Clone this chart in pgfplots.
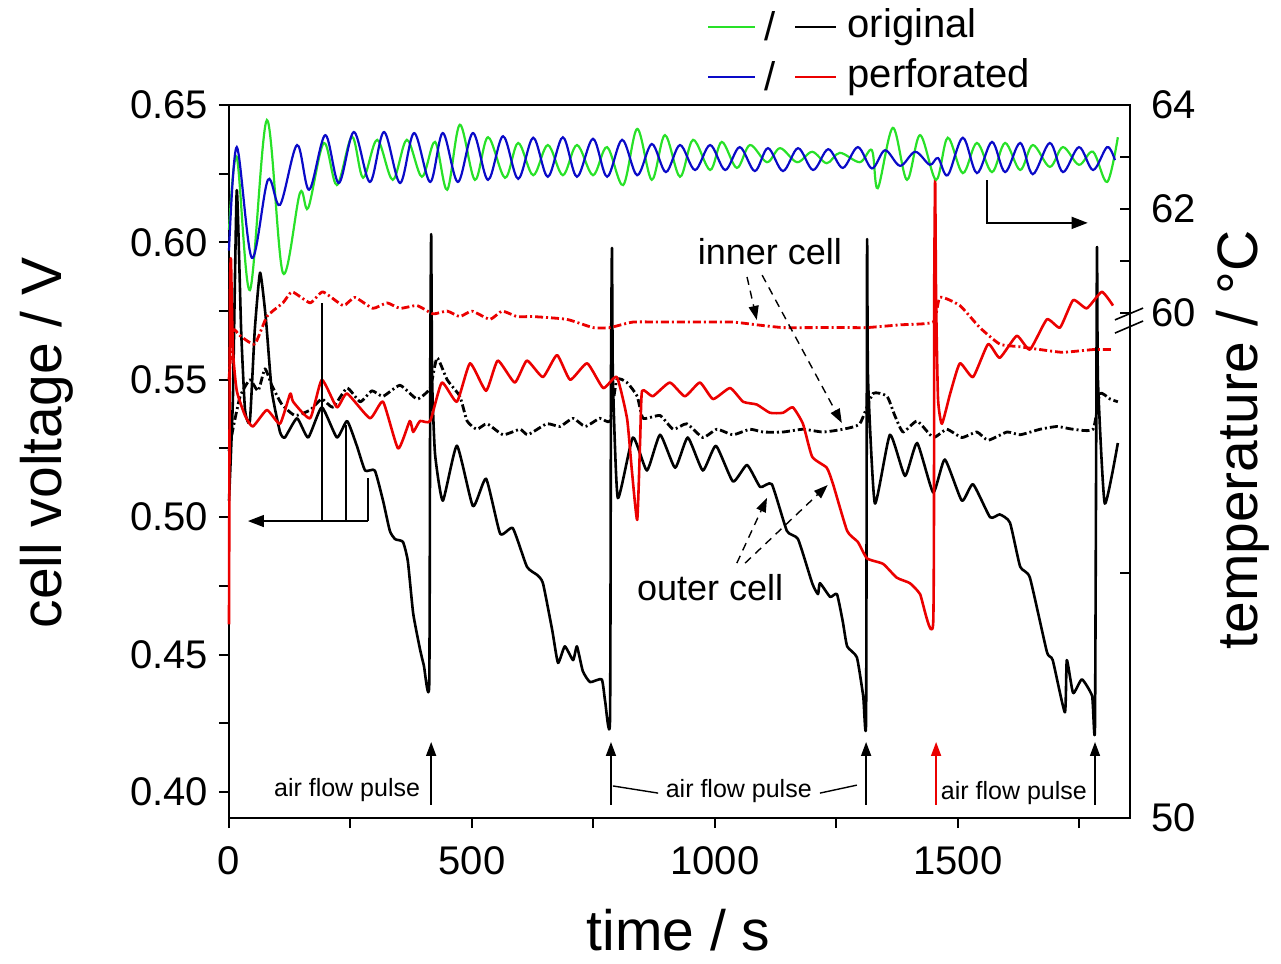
\documentclass[border=0pt]{standalone}
\usepackage{fontspec}
\setmainfont{Liberation Sans}
\usepackage{pgfplots}
\usepackage{pgfplotstable}
\pgfplotsset{compat=1.18}
\usetikzlibrary{arrows.meta}
\definecolor{tgreen}{RGB}{40,225,40}
\definecolor{tblue}{RGB}{10,10,200}
\definecolor{vred}{RGB}{235,0,0}

% temperature, perforated (blue)
\pgfplotstableread{
t T
0 61.2
16 63.19
47 61.06
80 62.56
105 62.08
140 63.23
165 62.37
198 63.42
226 62.50
257 63.48
290 62.52
319 63.48
352 62.50
381 63.46
414 62.52
440 63.46
471 62.52
502 63.46
533 62.56
564 63.40
595 62.58
626 63.37
656 62.62
687 63.38
716 62.62
749 63.35
778 62.62
809 63.33
840 62.65
870 63.25
899 62.71
928 63.23
959 62.75
990 63.23
1021 62.75
1051 63.19
1082 62.73
1109 63.17
1140 62.73
1171 63.17
1202 62.75
1233 63.15
1263 62.79
1294 63.19
1323 62.78
1350 63.13
1381 62.83
1412 63.10
1442 62.85
1459 62.98
1479 62.65
1510 63.37
1539 62.69
1570 63.29
1597 62.71
1628 63.27
1654 62.67
1689 63.27
1716 62.71
1749 63.19
1778 62.75
1807 63.19
1823 62.94
}\tempperf

% temperature, original (green)
\pgfplotstableread{
t T
0 61.6
16 63.0
43 60.44
78 63.71
111 60.77
146 62.31
163 62.02
195 63.27
222 62.46
253 63.39
276 62.60
305 63.33
337 62.56
366 63.33
397 62.62
424 63.29
449 62.37
475 63.62
506 62.56
533 63.38
568 62.60
595 63.27
626 62.65
656 63.23
687 62.65
716 63.23
749 62.65
778 63.19
811 62.46
840 63.54
870 62.56
897 63.42
928 62.62
955 63.33
990 62.75
1014 63.29
1045 62.79
1072 63.23
1107 62.90
1134 63.17
1169 62.90
1200 63.10
1230 62.88
1257 63.08
1298 62.90
1323 63.13
1335 62.40
1366 63.56
1395 62.56
1422 63.42
1455 62.56
1479 63.37
1510 62.69
1539 63.27
1570 62.71
1597 63.27
1628 62.75
1654 63.23
1689 62.81
1716 63.19
1749 62.85
1778 63.10
1807 62.52
1829 63.38
}\temporig

% outer cell, original (black solid)
\pgfplotstableread{
t V
0 0.506
8 0.543
16 0.619
25 0.568
33 0.539
43 0.535
53 0.568
64 0.589
76 0.572
88 0.546
105 0.531
115 0.529
140 0.536
163 0.529
191 0.540
222 0.529
243 0.535
263 0.526
280 0.517
300 0.517
317 0.506
331 0.495
342 0.492
358 0.491
368 0.484
379 0.465
393 0.452
401 0.446
412 0.439
414 0.550
416 0.603
418 0.550
424 0.523
440 0.506
469 0.526
502 0.504
529 0.514
558 0.494
584 0.496
613 0.482
634 0.479
646 0.476
665 0.459
677 0.447
691 0.453
708 0.448
716 0.453
728 0.444
743 0.440
767 0.441
774 0.433
784 0.426
786 0.550
788 0.598
790 0.550
800 0.507
831 0.529
860 0.517
887 0.530
918 0.518
944 0.529
975 0.517
1002 0.526
1037 0.513
1066 0.519
1093 0.511
1117 0.512
1148 0.495
1171 0.492
1200 0.476
1212 0.472
1216 0.476
1237 0.471
1251 0.472
1263 0.462
1272 0.453
1292 0.449
1305 0.435
1311 0.427
1313 0.600
1315 0.550
1329 0.505
1360 0.530
1391 0.515
1416 0.527
1449 0.509
1473 0.521
1508 0.506
1531 0.512
1566 0.500
1586 0.501
1607 0.498
1628 0.482
1648 0.478
1683 0.451
1695 0.448
1720 0.429
1724 0.448
1737 0.436
1755 0.441
1776 0.435
1782 0.425
1786 0.597
1788 0.550
1802 0.505
1829 0.527
}\outerorig

% inner cell, original (black dash-dot)
\pgfplotstableread{
t V
0 0.524
8 0.532
23 0.544
43 0.550
60 0.546
74 0.554
88 0.548
109 0.541
136 0.537
167 0.539
191 0.543
214 0.540
243 0.547
270 0.542
294 0.546
317 0.544
352 0.548
387 0.543
414 0.547
428 0.558
449 0.550
475 0.544
490 0.535
510 0.532
531 0.534
564 0.530
599 0.532
615 0.530
654 0.534
681 0.533
708 0.536
733 0.533
763 0.536
784 0.535
798 0.550
819 0.549
840 0.544
852 0.536
887 0.537
914 0.532
942 0.534
975 0.529
1004 0.532
1037 0.530
1072 0.532
1099 0.531
1140 0.531
1181 0.532
1222 0.531
1263 0.532
1298 0.534
1325 0.545
1354 0.544
1370 0.537
1387 0.531
1416 0.535
1449 0.529
1477 0.532
1508 0.529
1539 0.531
1562 0.528
1601 0.531
1628 0.530
1669 0.532
1704 0.533
1737 0.532
1778 0.532
1792 0.545
1813 0.543
1829 0.542
}\innerorig

% outer cell, perforated (red solid)
\pgfplotstableread{
t V
0 0.461
2 0.579
4 0.594
8 0.561
16 0.546
33 0.537
49 0.533
78 0.539
105 0.534
126 0.545
132 0.542
167 0.536
191 0.550
222 0.540
243 0.545
290 0.536
317 0.542
348 0.525
372 0.535
379 0.531
393 0.535
414 0.535
438 0.549
469 0.542
496 0.556
529 0.546
553 0.557
588 0.549
613 0.557
646 0.551
675 0.559
702 0.550
737 0.556
770 0.547
798 0.551
819 0.536
829 0.517
840 0.499
846 0.528
850 0.546
872 0.544
907 0.549
938 0.544
969 0.549
996 0.543
1031 0.547
1058 0.542
1086 0.541
1113 0.538
1140 0.538
1160 0.540
1181 0.534
1200 0.522
1230 0.518
1243 0.512
1272 0.495
1294 0.491
1313 0.485
1346 0.483
1374 0.478
1401 0.476
1422 0.472
1449 0.4615
1451 0.579
1453 0.623
1455 0.579
1459 0.543
1467 0.534
1484 0.545
1504 0.556
1531 0.551
1562 0.563
1586 0.558
1621 0.566
1648 0.561
1683 0.572
1710 0.569
1737 0.579
1765 0.576
1796 0.582
1819 0.577
}\outerperf

% inner cell, perforated (red dash-dot)
\pgfplotstableread{
t V
0 0.550
8 0.568
23 0.566
53 0.563
78 0.573
111 0.578
130 0.582
167 0.578
193 0.582
235 0.577
259 0.580
296 0.576
325 0.578
352 0.576
387 0.577
420 0.574
449 0.575
475 0.573
500 0.575
537 0.572
562 0.575
593 0.573
626 0.573
695 0.572
749 0.569
784 0.569
831 0.571
901 0.571
969 0.571
1037 0.571
1086 0.570
1140 0.569
1210 0.569
1278 0.569
1313 0.569
1381 0.570
1449 0.571
1463 0.580
1504 0.577
1545 0.569
1586 0.563
1628 0.562
1669 0.561
1716 0.560
1778 0.561
1819 0.561
}\innerperf

\begin{document}
\begin{tikzpicture}
\begin{axis}[
  scale only axis, width=450.5pt, height=356.5pt,
  xmin=0, xmax=1854, ymin=0.39054, ymax=0.65,
  xtick={0,500,1000,1500}, minor xtick={250,750,1250,1750},
  ytick={0.40,0.45,0.50,0.55,0.60,0.65},
  minor ytick={0.425,0.475,0.525,0.575,0.625},
  xtick pos=left, ytick pos=left,
  tick align=outside,
  major tick length=5pt, minor tick length=5pt,
  scaled ticks=false,
  /pgf/number format/assume math mode=true,
  xticklabel style={/pgf/number format/1000 sep={}, yshift=-6pt},
  yticklabel style={/pgf/number format/.cd, fixed, fixed zerofill, precision=2, /tikz/.cd, xshift=-2pt},
  ticklabel style={font=\fontsize{20}{24}\selectfont},
  axis line style={line width=1pt},
  tick style={line width=1pt, black},
  clip=false,
  every axis plot/.append style={line join=round},
]
\coordinate (SW) at (rel axis cs:0,0);
\addplot[black, line width=1.3pt, smooth, tension=0.3] table {\outerorig};
\addplot[black, line width=1.4pt, smooth, tension=0.3, dash pattern=on 4pt off 1.5pt on 1pt off 1.5pt] table {\innerorig};
\addplot[vred, line width=1.3pt, smooth, tension=0.3] table {\outerperf};
\addplot[vred, line width=1.4pt, smooth, tension=0.3, dash pattern=on 4pt off 1.5pt on 1pt off 1.5pt] table {\innerperf};

% axis labels
\node[rotate=90, font=\fontsize{28.5}{34}\selectfont] at (axis description cs:-0.202,0.526) {cell voltage / V};
\node[rotate=90, font=\fontsize{28.5}{34}\selectfont] at (axis description cs:1.125,0.530) {temperature / °C};
\node[anchor=base, font=\fontsize{28.5}{34}\selectfont] at (axis description cs:0.499,-0.186) {time / s};

% legend
\draw[tgreen, line width=1pt] (axis cs:986,0.6785) -- (axis cs:1082,0.6785);
\node[font=\fontsize{20}{24}\selectfont] at (axis cs:1113,0.6785) {/};
\draw[black, line width=1pt] (axis cs:1165,0.6785) -- (axis cs:1249,0.6785);
\node[anchor=west, inner sep=0pt, font=\fontsize{20}{24}\selectfont] at (axis cs:1272,0.6785) {original};
\draw[tblue, line width=1pt] (axis cs:986,0.6603) -- (axis cs:1082,0.6603);
\node[font=\fontsize{20}{24}\selectfont] at (axis cs:1113,0.6603) {/};
\draw[vred, line width=1pt] (axis cs:1165,0.6603) -- (axis cs:1249,0.6603);
\node[anchor=west, inner sep=0pt, font=\fontsize{20}{24}\selectfont] at (axis cs:1272,0.6603) {perforated};

% inner / outer cell annotations
\node[font=\fontsize{18}{22}\selectfont] at (axis cs:1113,0.5965) {inner cell};
\draw[line width=0.7pt, dash pattern=on 4pt off 3pt, -{Triangle[length=7pt,width=5pt]}] (axis cs:1066,0.5874) -- (axis cs:1086,0.5718);
\draw[line width=0.7pt, dash pattern=on 4pt off 3pt, -{Triangle[length=7pt,width=5pt]}] (axis cs:1097,0.5881) -- (axis cs:1261,0.5343);
\node[font=\fontsize{18}{22}\selectfont] at (axis cs:990,0.4742) {outer cell};
\draw[line width=0.7pt, dash pattern=on 4pt off 3pt, -{Triangle[length=7pt,width=5pt]}] (axis cs:1045,0.4833) -- (axis cs:1107,0.5070);
\draw[line width=0.7pt, dash pattern=on 4pt off 3pt, -{Triangle[length=7pt,width=5pt]}] (axis cs:1062,0.4833) -- (axis cs:1232,0.5117);

% left-axis pointer
\draw[line width=0.7pt, -{Triangle[length=8pt,width=6pt]}] (axis cs:286,0.4986) -- (axis cs:39,0.4986);
\draw[line width=0.7pt] (axis cs:191,0.4986) -- (axis cs:191,0.5779);
\draw[line width=0.7pt] (axis cs:241,0.4986) -- (axis cs:241,0.5336);
\draw[line width=0.7pt] (axis cs:286,0.4986) -- (axis cs:286,0.5143);
% right-axis pointer
\draw[line width=0.7pt, -{Triangle[length=8pt,width=6pt]}] (axis cs:1560,0.6227) -- (axis cs:1560,0.6071) -- (axis cs:1767,0.6071);

% air flow pulses
\draw[line width=0.8pt, -{Triangle[length=7pt,width=5pt]}] (axis cs:416,0.3953) -- (axis cs:416,0.4182);
\draw[line width=0.8pt, -{Triangle[length=7pt,width=5pt]}] (axis cs:786,0.3953) -- (axis cs:786,0.4182);
\draw[line width=0.8pt, -{Triangle[length=7pt,width=5pt]}] (axis cs:1311,0.3953) -- (axis cs:1311,0.4182);
\draw[line width=0.8pt, -{Triangle[length=7pt,width=5pt]}] (axis cs:1782,0.3953) -- (axis cs:1782,0.4182);
\draw[vred, line width=0.8pt, -{Triangle[length=7pt,width=5pt]}] (axis cs:1455,0.3953) -- (axis cs:1455,0.4182);
\node[font=\fontsize{12.5}{15}\selectfont] at (axis cs:243,0.4007) {air flow pulse};
\node[font=\fontsize{12.5}{15}\selectfont] at (axis cs:1049,0.4004) {air flow pulse};
\node[font=\fontsize{12.5}{15}\selectfont] at (axis cs:1615,0.3996) {air flow pulse};
\draw[line width=0.7pt] (axis cs:790,0.4022) -- (axis cs:883,0.3996);
\draw[line width=0.7pt] (axis cs:1216,0.3996) -- (axis cs:1292,0.4025);

% axis break marks (right)
\draw[line width=0.8pt] (axis cs:1823,0.5718) -- (axis cs:1881,0.5761);
\draw[line width=0.8pt] (axis cs:1823,0.5670) -- (axis cs:1881,0.5714);
\end{axis}

\begin{axis}[
  scale only axis, width=450.5pt, height=356.5pt,
  xmin=0, xmax=1854, ymin=50.288, ymax=64,
  axis x line=none, axis y line*=right,
  ytick={50.288,55,60,62,64}, yticklabels={50,,60,62,64},
  minor ytick={61,63},
  tick align=inside,
  major tick length=5pt, minor tick length=5pt,
  /pgf/number format/assume math mode=true,
  yticklabel style={font=\fontsize{20}{24}\selectfont, xshift=7pt},
  axis line style={line width=1pt},
  tick style={line width=1pt, black},
  clip=false,
]
\addplot[tgreen, line width=1.1pt, smooth, tension=0.55] table {\temporig};
\addplot[tblue, line width=1.1pt, smooth, tension=0.55] table {\tempperf};
\end{axis}
\pgfresetboundingbox
\path ([shift={(-114.5pt,-73pt)}]SW) rectangle ([shift={(526pt,409pt)}]SW);
\end{tikzpicture}
\end{document}
